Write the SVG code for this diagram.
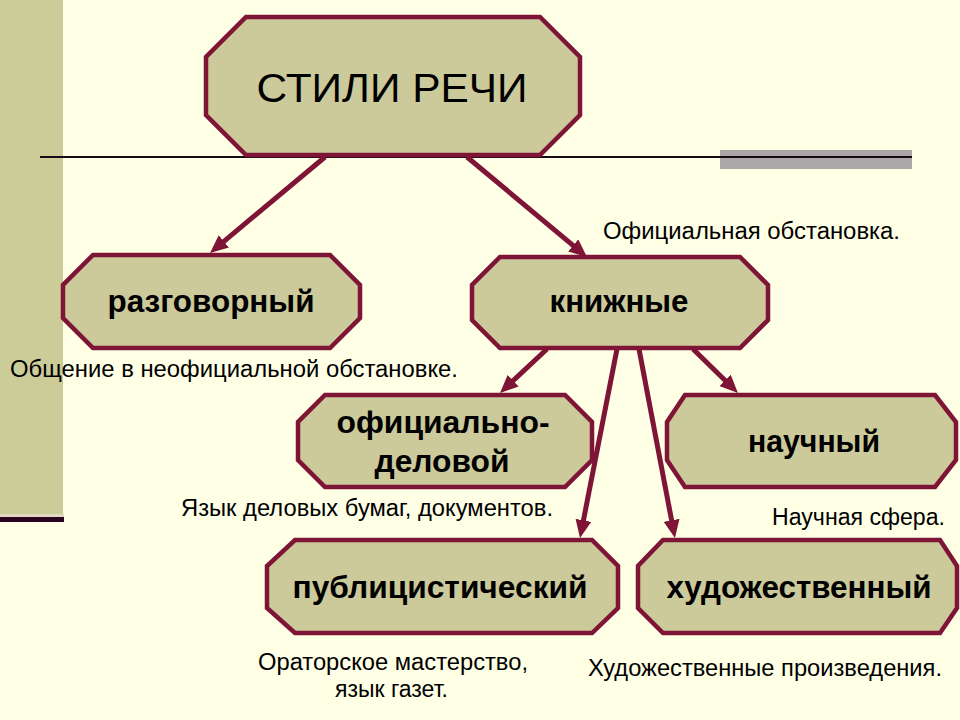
<svg xmlns="http://www.w3.org/2000/svg" width="960" height="720" viewBox="0 0 960 720">
<style>
.node{fill:#CCC99A;stroke:#7E1436;stroke-width:4.5;stroke-linejoin:miter}
.lbl{font-family:"Liberation Sans",Arial,sans-serif;font-weight:bold;fill:#000;text-anchor:middle}
.title{font-family:"Liberation Sans",Arial,sans-serif;font-size:41px;fill:#000;text-anchor:middle}
.desc{font-family:"Liberation Sans",Arial,sans-serif;font-size:23px;fill:#000}
.conn line{stroke:#7E1436;stroke-width:5;marker-end:url(#ah)}
</style>
<defs>
<marker id="ah" markerUnits="userSpaceOnUse" markerWidth="18" markerHeight="16" refX="8" refY="8" orient="auto" viewBox="0 0 18 16">
<path d="M0,0 L18,8 L0,16 z" fill="#7E1436"/>
</marker>
</defs>
<rect x="0" y="0" width="960" height="720" fill="#FFFFE6"/>
<rect x="0" y="0" width="63" height="514" fill="#CCCC99"/>
<rect x="0" y="514" width="64" height="3" fill="#E2D9C0"/>
<rect x="0" y="517" width="64" height="5" fill="#2A0522"/>
<rect x="720" y="150" width="192" height="19" fill="#ABA7A8"/>
<line x1="40" y1="157" x2="912" y2="157" stroke="#1A0A14" stroke-width="2"/>

<g class="conn" id="connectors">
<line x1="325" y1="157" x2="217.7" y2="246.6"/>
<line x1="467" y1="157" x2="579.3" y2="250.6"/>
<line x1="547" y1="349" x2="507.3" y2="386.2"/>
<line x1="617" y1="349" x2="581.9" y2="528.2"/>
<line x1="639" y1="349" x2="673.1" y2="528.2"/>
<line x1="693" y1="349" x2="730.8" y2="386.0"/>
</g>

<g id="title">
<polygon class="node" points="246,17 540,17 580,57 580,115 540,155 246,155 206,115 206,57"/>
<text class="title" x="392" y="102" textLength="271" lengthAdjust="spacingAndGlyphs">СТИЛИ РЕЧИ</text>
</g>
<g id="razgovorny">
<polygon class="node" points="93,255 330,255 360,285 360,318 330,348 93,348 63,318 63,285"/>
<text class="lbl" x="211" y="312" font-size="31" textLength="207" lengthAdjust="spacingAndGlyphs">разговорный</text>
</g>
<g id="knizhnye">
<polygon class="node" points="500,257 740,257 768,285 768,320 740,348 500,348 472,320 472,285"/>
<text class="lbl" x="619" y="312" font-size="31" textLength="139" lengthAdjust="spacingAndGlyphs">книжные</text>
</g>
<g id="oficialno">
<polygon class="node" points="325,395 565,395 592,422 592,460 565,487 325,487 298,460 298,422"/>
<text class="lbl" x="443" y="433" font-size="31" textLength="213" lengthAdjust="spacingAndGlyphs">официально-</text>
<text class="lbl" x="442" y="472" font-size="31" textLength="135" lengthAdjust="spacingAndGlyphs">деловой</text>
</g>
<g id="nauchny">
<polygon class="node" points="685,395 935,395 956,422 956,460 935,487 685,487 667,460 667,422"/>
<text class="lbl" x="814" y="452" font-size="31" textLength="132" lengthAdjust="spacingAndGlyphs">научный</text>
</g>
<g id="publicist">
<polygon class="node" points="295,540 592,540 618,566 618,608 592,633 295,633 267,608 267,566"/>
<text class="lbl" x="440" y="598" font-size="31" textLength="295" lengthAdjust="spacingAndGlyphs">публицистический</text>
</g>
<g id="hudozh">
<polygon class="node" points="663,540 940,540 957,566 957,608 940,633 663,633 638,608 638,566"/>
<text class="lbl" x="799" y="598" font-size="31" textLength="265" lengthAdjust="spacingAndGlyphs">художественный</text>
</g>

<g id="descriptions">
<text class="desc" x="603" y="239" textLength="297" lengthAdjust="spacingAndGlyphs">Официальная обстановка.</text>
<text class="desc" x="10" y="377" textLength="448" lengthAdjust="spacingAndGlyphs">Общение в неофициальной обстановке.</text>
<text class="desc" x="181" y="516" textLength="372" lengthAdjust="spacingAndGlyphs">Язык деловых бумаг, документов.</text>
<text class="desc" x="772" y="525" textLength="173" lengthAdjust="spacingAndGlyphs">Научная сфера.</text>
<text class="desc" x="258" y="670" textLength="270" lengthAdjust="spacingAndGlyphs">Ораторское мастерство,</text>
<text class="desc" x="335" y="697" textLength="113" lengthAdjust="spacingAndGlyphs">язык газет.</text>
<text class="desc" x="588" y="676" textLength="354" lengthAdjust="spacingAndGlyphs">Художественные произведения.</text>
</g>
</svg>
